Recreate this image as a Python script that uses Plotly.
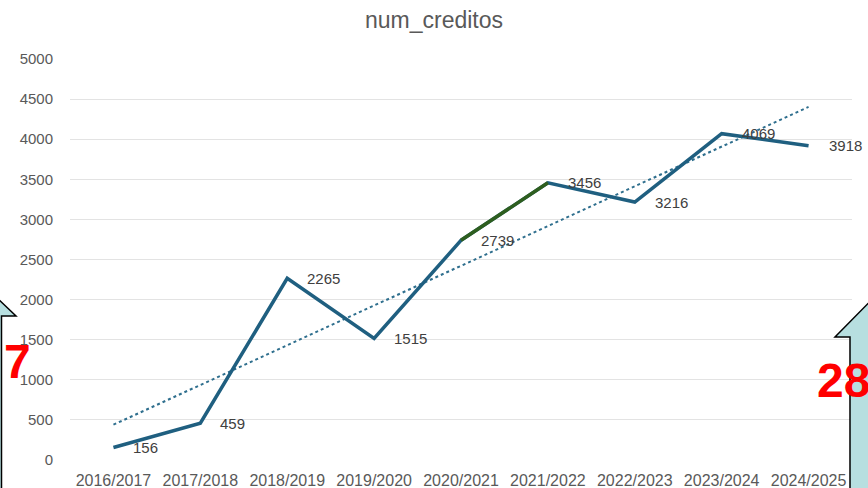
import numpy as np
import plotly.graph_objects as go

categories = ["2016/2017", "2017/2018", "2018/2019", "2019/2020", "2020/2021",
              "2021/2022", "2022/2023", "2023/2024", "2024/2025"]
values = [156, 459, 2265, 1515, 2739, 3456, 3216, 4069, 3918]
y_ticks = [0, 500, 1000, 1500, 2000, 2500, 3000, 3500, 4000, 4500, 5000]
highlight_idx = [4, 5]  # green segment
left_badge = "7"
right_badge = "28"

W, H = 868, 488
ML, MR, MT, MB = 70, 16, 59, 28
PW, PH = W - ML - MR, H - MT - MB


def px(x):
    return (x - ML) / PW


def py(y):
    return (H - MB - y) / PH


xi = np.arange(len(values))
slope, intercept = np.polyfit(xi, values, 1)
trend = slope * xi + intercept

FONT = "Liberation Sans, Arial"
line_col = "#1f5f80"
fig = go.Figure()
fig.add_trace(go.Scatter(x=categories, y=trend, mode="lines",
                         line=dict(color="#2f6f8e", width=2, dash="dot"),
                         hoverinfo="skip", showlegend=False))
fig.add_trace(go.Scatter(x=categories, y=values, mode="lines",
                         line=dict(color=line_col, width=3.5),
                         showlegend=False))
fig.add_trace(go.Scatter(x=[categories[i] for i in highlight_idx],
                         y=[values[i] for i in highlight_idx], mode="lines",
                         line=dict(color="#2e5e1e", width=3.5),
                         showlegend=False))

annotations = []
for c, v in zip(categories, values):
    annotations.append(dict(x=c, y=v, xref="x", yref="y", text=str(v),
                            showarrow=False, xanchor="left", yanchor="middle",
                            xshift=18, yshift=0,
                            font=dict(family=FONT, size=15, color="#404040")))

annotations.append(dict(x=px(2), y=py(361), xref="paper", yref="paper",
                        text="<b>" + left_badge + "</b>", showarrow=False,
                        xanchor="left", yanchor="middle",
                        font=dict(family=FONT, size=48, color="#ff0000")))
annotations.append(dict(x=px(815), y=py(380), xref="paper", yref="paper",
                        text="<b>" + right_badge + "</b>", showarrow=False,
                        xanchor="left", yanchor="middle",
                        font=dict(family=FONT, size=48, color="#ff0000")))


def path(points):
    return "M " + " L ".join(f"{px(a):.5f},{py(b):.5f}" for a, b in points) + " Z"


shapes = [
    dict(type="path", xref="paper", yref="paper", layer="above",
         path=path([(1.5, 500), (1.5, 316), (16, 316), (-45, 258), (-45, 500)]),
         fillcolor="#b7dfe0", line=dict(color="black", width=1.5)),
    dict(type="path", xref="paper", yref="paper", layer="above",
         path=path([(850, 500), (850, 337), (835, 337), (905, 266), (905, 500)]),
         fillcolor="#b7dfe0", line=dict(color="black", width=1.5)),
]

fig.update_layout(
    width=W, height=H,
    margin=dict(l=ML, r=MR, t=MT, b=MB),
    paper_bgcolor="white", plot_bgcolor="white",
    title=dict(text="num_creditos", x=0.5, xanchor="center", y=1 - 20 / H, yanchor="middle",
               font=dict(family=FONT, size=23, color="#595959")),
    xaxis=dict(type="category", categoryorder="array", categoryarray=categories,
               range=[-0.5, len(categories) - 0.5], showgrid=False, zeroline=False,
               showline=False, ticks="", ticklabelstandoff=9, automargin=False,
               tickfont=dict(family=FONT, size=16, color="#595959")),
    yaxis=dict(range=[0, 5000], tickvals=y_ticks, ticktext=[str(t) for t in y_ticks],
               showgrid=True, gridcolor="#e3e3e3", gridwidth=1, zeroline=False,
               showline=False, ticks="", ticklabelstandoff=16, automargin=False,
               tickfont=dict(family=FONT, size=15, color="#595959")),
    annotations=annotations,
    shapes=shapes,
)

fig.write_html("out.html", config={"displayModeBar": False},
               post_script="document.body.style.margin='0';document.body.style.overflow='hidden';")
